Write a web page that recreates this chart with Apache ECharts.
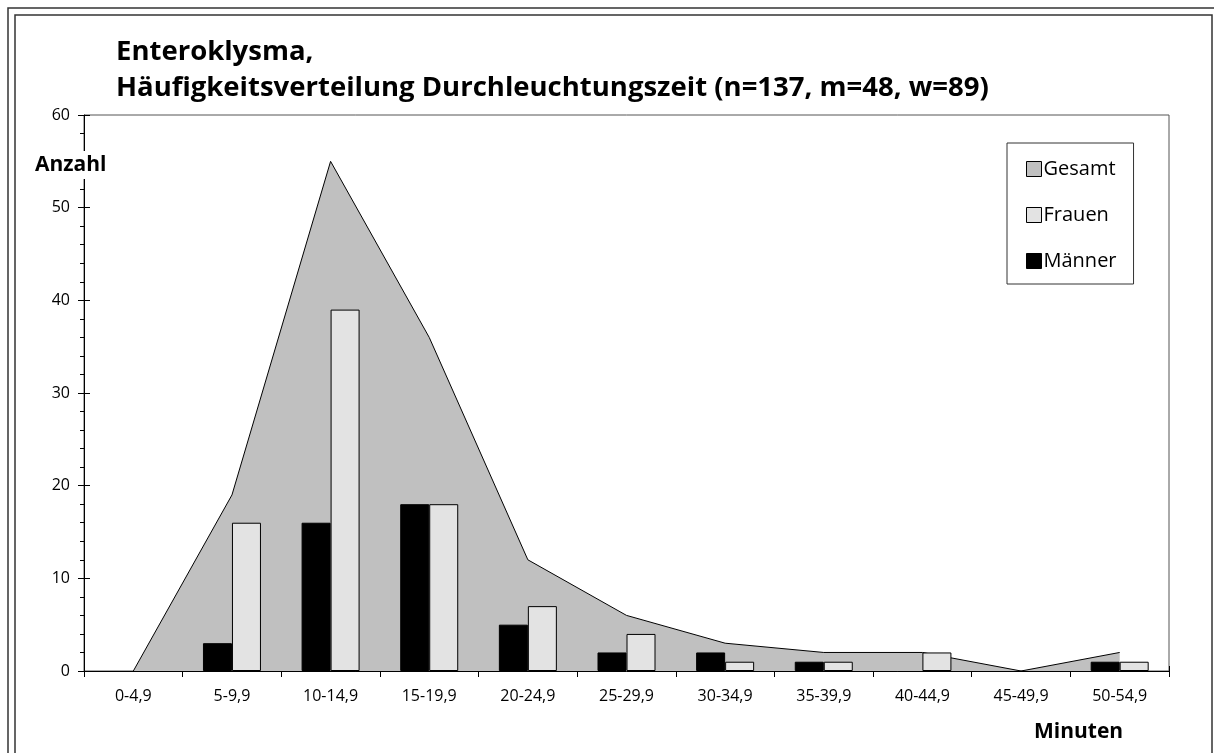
<!DOCTYPE html>
<html>
<head>
<meta charset="utf-8">
<script src="https://cdn.jsdelivr.net/npm/echarts@6/dist/echarts.min.js"></script>
<style>
  html, body { margin: 0; padding: 0; background: #fff; }
  #chart { width: 1214px; height: 753px; }
</style>
</head>
<body>
<div id="chart"></div>
<script>
// Durchleuchtungszeit-Klassen (Minuten)
const categories = ['0-4,9', '5-9,9', '10-14,9', '15-19,9', '20-24,9', '25-29,9',
                    '30-34,9', '35-39,9', '40-44,9', '45-49,9', '50-54,9'];
// Anzahl je Klasse
const gesamt = [0, 19, 55, 36, 12, 6, 3, 2, 2, 0, 2];
const frauen = [0, 16, 39, 18, 7, 4, 1, 1, 2, 0, 1];
const maenner = [0, 3, 16, 18, 5, 2, 2, 1, 0, 0, 1];

const FONT = '"Open Sans", Lato, sans-serif';

// empty classes get no bar at all
const barData = arr => arr.map(v => (v === 0 ? '-' : v));

const chart = echarts.init(document.getElementById('chart'));
chart.setOption({
  animation: false,
  backgroundColor: '#fff',
  textStyle: { fontFamily: FONT, color: '#000' },
  title: [
    {
      text: 'Enteroklysma,\nHäufigkeitsverteilung Durchleuchtungszeit (n=137, m=48, w=89)',
      left: 116, top: 34, padding: 0,
      textStyle: { fontFamily: FONT, fontSize: 27.5, fontWeight: 'bold', lineHeight: 36, color: '#000' }
    },
    {
      text: 'Anzahl', left: 33, top: 151, padding: [1, 2], backgroundColor: '#fff',
      textStyle: { fontFamily: FONT, fontSize: 21, fontWeight: 'bold', lineHeight: 26, color: '#000' }
    },
    {
      text: 'Minuten', left: 1034, top: 719, padding: 0,
      textStyle: { fontFamily: FONT, fontSize: 21, fontWeight: 'bold', lineHeight: 26, color: '#000' }
    }
  ],
  legend: {
    orient: 'vertical', left: 1007, top: 143,
    padding: [16, 17, 13, 19],
    itemGap: 26, itemWidth: 15, itemHeight: 15,
    borderColor: '#333', borderWidth: 1, backgroundColor: '#fff',
    icon: 'rect', selectedMode: false,
    textStyle: { fontFamily: FONT, fontSize: 20, lineHeight: 18, color: '#000', padding: [0, 0, 0, -3] },
    data: [
      { name: 'Gesamt', icon: 'rect', itemStyle: { color: '#c0c0c0', borderColor: '#000', borderWidth: 1 } },
      { name: 'Frauen', icon: 'rect', itemStyle: { color: '#e3e3e3', borderColor: '#000', borderWidth: 1 } },
      { name: 'Männer', icon: 'rect', itemStyle: { color: '#000', borderColor: '#000', borderWidth: 1 } }
    ]
  },
  grid: {
    left: 84, right: 45, top: 115, bottom: 82,
    show: true, borderColor: '#555', borderWidth: 1
  },
  xAxis: [
    {
      type: 'category', data: categories, boundaryGap: true,
      axisLine: { lineStyle: { color: '#000', width: 1 } },
      axisTick: { show: true, length: 6, lineStyle: { color: '#000' } },
      axisLabel: { fontFamily: FONT, fontSize: 16, color: '#000', margin: 17 }
    },
    {
      type: 'category', data: categories, boundaryGap: true, position: 'bottom',
      axisLine: { show: false },
      axisTick: { show: true, inside: true, length: 5, lineStyle: { color: '#000' } },
      axisLabel: { show: false }
    }
  ],
  yAxis: [
    {
      type: 'value', min: 0, max: 60, interval: 10,
      axisLine: { show: true, lineStyle: { color: '#000', width: 1 } },
      axisTick: { show: true, length: 6, lineStyle: { color: '#000' } },
      minorTick: { show: true, splitNumber: 5, length: 4, lineStyle: { color: '#000' } },
      splitLine: { show: false },
      axisLabel: { fontFamily: FONT, fontSize: 16, color: '#000', margin: 14 }
    },
    {
      type: 'value', min: 0, max: 60, interval: 10, position: 'left',
      axisLine: { show: false },
      axisTick: { show: true, inside: true, length: 6, lineStyle: { color: '#000' } },
      splitLine: { show: false },
      axisLabel: { show: false }
    }
  ],
  series: [
    {
      name: 'Gesamt', type: 'line', data: gesamt, z: 1,
      symbol: 'none',
      lineStyle: { color: '#000', width: 1 },
      itemStyle: { color: '#c0c0c0' },
      areaStyle: { color: '#c0c0c0', opacity: 1 }
    },
    {
      name: 'Männer', type: 'bar', data: barData(maenner), z: 3,
      barWidth: 29, barGap: '0%',
      itemStyle: { color: '#000', borderColor: '#000', borderWidth: 1 }
    },
    {
      name: 'Frauen', type: 'bar', data: barData(frauen), z: 3,
      barWidth: 29, barGap: '0%',
      itemStyle: { color: '#e3e3e3', borderColor: '#000', borderWidth: 1 }
    }
  ],
  graphic: [
    { type: 'rect', silent: true, z: 100, shape: { x: 8, y: 8, width: 1230, height: 780 },
      style: { fill: 'none', stroke: '#333', lineWidth: 1.5 } },
    { type: 'rect', silent: true, z: 100, shape: { x: 15, y: 15, width: 1197, height: 780 },
      style: { fill: 'none', stroke: '#333', lineWidth: 1.5 } }
  ]
});
</script>
</body>
</html>
